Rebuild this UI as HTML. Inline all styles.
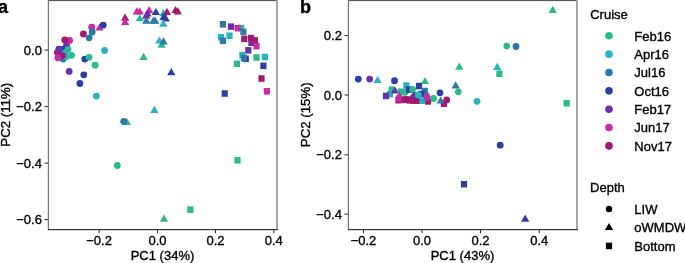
<!DOCTYPE html>
<html><head><meta charset="utf-8"><style>
html,body{margin:0;padding:0;background:#fff;width:685px;height:263px;overflow:hidden}
svg{display:block;will-change:transform}
text{font-family:"Liberation Sans",sans-serif;font-size:13px;fill:#000;stroke:#000;stroke-width:0.35px}
</style></head><body>
<svg width="685" height="263" viewBox="0 0 685 263">
<defs><clipPath id="ca"><rect x="48" y="0" width="229" height="229"/></clipPath>
<clipPath id="cb"><rect x="348" y="0" width="229" height="229"/></clipPath></defs>
<rect x="48" y="0" width="229" height="1" fill="#575757"/>
<rect x="49" y="1" width="227" height="1" fill="#efefef"/>
<rect x="276" y="0" width="2" height="230" fill="#a6a6a6"/>
<rect x="48" y="0" width="1" height="230" fill="#747474"/>
<rect x="47" y="0" width="1" height="230" fill="#e2e2e2"/>
<rect x="48" y="229" width="230" height="1" fill="#333"/>
<rect x="48" y="230" width="230" height="1" fill="#d8d8d8"/>
<rect x="44.5" y="49.60" width="3.5" height="1" fill="#2a2a2a"/>
<text x="41.90" y="54.60" text-anchor="end">0.0</text>
<rect x="44.5" y="106.10" width="3.5" height="1" fill="#2a2a2a"/>
<text x="41.90" y="111.10" text-anchor="end">−0.2</text>
<rect x="44.5" y="162.60" width="3.5" height="1" fill="#2a2a2a"/>
<text x="41.90" y="167.60" text-anchor="end">−0.4</text>
<rect x="44.5" y="219.10" width="3.5" height="1" fill="#2a2a2a"/>
<text x="41.90" y="224.10" text-anchor="end">−0.6</text>
<rect x="98.60" y="230" width="1" height="3.2" fill="#2a2a2a"/>
<text x="99.10" y="244.6" text-anchor="middle">−0.2</text>
<rect x="157.00" y="230" width="1" height="3.2" fill="#2a2a2a"/>
<text x="157.50" y="244.6" text-anchor="middle">0.0</text>
<rect x="215.00" y="230" width="1" height="3.2" fill="#2a2a2a"/>
<text x="215.50" y="244.6" text-anchor="middle">0.2</text>
<rect x="273.30" y="230" width="1" height="3.2" fill="#2a2a2a"/>
<text x="273.80" y="244.6" text-anchor="middle">0.4</text>
<text x="162.50" y="259.9" text-anchor="middle">PC1 (34%)</text>
<text transform="translate(10.30,114.75) rotate(-90)" text-anchor="middle" style="font-size:13.25px">PC2 (11%)</text>
<rect x="348" y="0" width="229" height="1" fill="#575757"/>
<rect x="349" y="1" width="227" height="1" fill="#efefef"/>
<rect x="576" y="0" width="2" height="230" fill="#a6a6a6"/>
<rect x="348" y="0" width="1" height="230" fill="#747474"/>
<rect x="347" y="0" width="1" height="230" fill="#e2e2e2"/>
<rect x="348" y="229" width="230" height="1" fill="#333"/>
<rect x="348" y="230" width="230" height="1" fill="#d8d8d8"/>
<rect x="344.5" y="35.10" width="3.5" height="1" fill="#2a2a2a"/>
<text x="341.90" y="40.10" text-anchor="end">0.2</text>
<rect x="344.5" y="94.50" width="3.5" height="1" fill="#2a2a2a"/>
<text x="341.90" y="99.50" text-anchor="end">0.0</text>
<rect x="344.5" y="154.30" width="3.5" height="1" fill="#2a2a2a"/>
<text x="341.90" y="159.30" text-anchor="end">−0.2</text>
<rect x="344.5" y="213.70" width="3.5" height="1" fill="#2a2a2a"/>
<text x="341.90" y="218.70" text-anchor="end">−0.4</text>
<rect x="363.00" y="230" width="1" height="3.2" fill="#2a2a2a"/>
<text x="363.50" y="244.6" text-anchor="middle">−0.2</text>
<rect x="421.50" y="230" width="1" height="3.2" fill="#2a2a2a"/>
<text x="422.00" y="244.6" text-anchor="middle">0.0</text>
<rect x="480.00" y="230" width="1" height="3.2" fill="#2a2a2a"/>
<text x="480.50" y="244.6" text-anchor="middle">0.2</text>
<rect x="538.70" y="230" width="1" height="3.2" fill="#2a2a2a"/>
<text x="539.20" y="244.6" text-anchor="middle">0.4</text>
<text x="462.50" y="259.9" text-anchor="middle">PC1 (43%)</text>
<text transform="translate(310.10,114.75) rotate(-90)" text-anchor="middle" style="font-size:13.25px">PC2 (15%)</text>
<g clip-path="url(#ca)">
<circle cx="66.60" cy="45.20" r="3.4" fill="#6A2FAD"/>
<circle cx="69.60" cy="40.40" r="3.4" fill="#C72BA8"/>
<circle cx="64.80" cy="39.90" r="3.4" fill="#A01A6E"/>
<circle cx="63.00" cy="59.10" r="3.4" fill="#2A7AA3"/>
<circle cx="63.00" cy="49.40" r="3.4" fill="#2C3FA0"/>
<circle cx="66.20" cy="56.80" r="3.4" fill="#27B4C0"/>
<circle cx="65.30" cy="52.80" r="3.4" fill="#27B4C0"/>
<circle cx="68.00" cy="49.30" r="3.4" fill="#2BB98E"/>
<circle cx="57.40" cy="52.60" r="3.4" fill="#A01A6E"/>
<circle cx="58.80" cy="49.10" r="3.4" fill="#6A2FAD"/>
<circle cx="62.50" cy="55.60" r="3.4" fill="#A01A6E"/>
<circle cx="57.80" cy="57.80" r="3.4" fill="#C72BA8"/>
<circle cx="71.60" cy="55.30" r="3.4" fill="#2BB98E"/>
<circle cx="83.40" cy="34.00" r="3.4" fill="#A01A6E"/>
<circle cx="89.10" cy="37.80" r="3.4" fill="#2A7AA3"/>
<circle cx="91.70" cy="27.20" r="3.4" fill="#C72BA8"/>
<circle cx="92.20" cy="32.00" r="3.4" fill="#2A7AA3"/>
<polygon points="99.50,23.40 103.65,30.60 95.35,30.60" fill="#C72BA8"/>
<circle cx="103.20" cy="25.20" r="3.4" fill="#2C3FA0"/>
<circle cx="104.60" cy="50.50" r="3.4" fill="#27B4C0"/>
<circle cx="84.80" cy="59.10" r="3.4" fill="#2C3FA0"/>
<circle cx="89.00" cy="57.30" r="3.4" fill="#2BB98E"/>
<circle cx="95.20" cy="65.20" r="3.4" fill="#2BB98E"/>
<circle cx="69.20" cy="71.40" r="3.4" fill="#6A2FAD"/>
<circle cx="83.80" cy="74.80" r="3.4" fill="#2C3FA0"/>
<circle cx="79.90" cy="83.50" r="3.4" fill="#2C3FA0"/>
<circle cx="96.40" cy="96.10" r="3.4" fill="#27B4C0"/>
<polygon points="126.80,117.80 130.95,125.00 122.65,125.00" fill="#2BB98E"/>
<circle cx="123.70" cy="121.50" r="3.4" fill="#2A7AA3"/>
<circle cx="117.30" cy="165.50" r="3.4" fill="#2BB98E"/>
<polygon points="125.10,13.60 129.25,20.80 120.95,20.80" fill="#A01A6E"/>
<polygon points="125.10,17.80 129.25,25.00 120.95,25.00" fill="#C72BA8"/>
<polygon points="136.80,7.20 140.95,14.40 132.65,14.40" fill="#C72BA8"/>
<polygon points="139.70,7.20 143.85,14.40 135.55,14.40" fill="#C72BA8"/>
<polygon points="139.70,14.10 143.85,21.30 135.55,21.30" fill="#2BB98E"/>
<polygon points="149.20,6.00 153.35,13.20 145.05,13.20" fill="#C72BA8"/>
<polygon points="147.50,9.20 151.65,16.40 143.35,16.40" fill="#6A2FAD"/>
<polygon points="146.20,11.60 150.35,18.80 142.05,18.80" fill="#6A2FAD"/>
<polygon points="155.90,7.90 160.05,15.10 151.75,15.10" fill="#2C3FA0"/>
<polygon points="146.30,16.50 150.45,23.70 142.15,23.70" fill="#2A7AA3"/>
<polygon points="153.40,16.50 157.55,23.70 149.25,23.70" fill="#2A7AA3"/>
<polygon points="155.20,16.50 159.35,23.70 151.05,23.70" fill="#2A7AA3"/>
<polygon points="163.30,9.10 167.45,16.30 159.15,16.30" fill="#27B4C0"/>
<polygon points="167.00,7.70 171.15,14.90 162.85,14.90" fill="#A01A6E"/>
<polygon points="175.50,5.90 179.65,13.10 171.35,13.10" fill="#A01A6E"/>
<polygon points="177.80,7.20 181.95,14.40 173.65,14.40" fill="#A01A6E"/>
<polygon points="165.80,14.40 169.95,21.60 161.65,21.60" fill="#2C3FA0"/>
<polygon points="163.60,12.80 167.75,20.00 159.45,20.00" fill="#2C3FA0"/>
<polygon points="163.30,19.60 167.45,26.80 159.15,26.80" fill="#27B4C0"/>
<polygon points="161.60,40.50 165.75,47.70 157.45,47.70" fill="#2BB98E"/>
<polygon points="159.30,36.40 163.45,43.60 155.15,43.60" fill="#27B4C0"/>
<polygon points="163.50,37.20 167.65,44.40 159.35,44.40" fill="#2A7AA3"/>
<polygon points="143.60,52.70 147.75,59.90 139.45,59.90" fill="#2BB98E"/>
<polygon points="171.30,68.10 175.45,75.30 167.15,75.30" fill="#2C3FA0"/>
<polygon points="154.40,105.80 158.55,113.00 150.25,113.00" fill="#27B4C0"/>
<polygon points="164.00,214.60 168.15,221.80 159.85,221.80" fill="#2BB98E"/>
<rect x="219.80" y="21.05" width="6.2" height="6.55" fill="#2A7AA3"/>
<rect x="227.90" y="23.35" width="6.2" height="6.55" fill="#6A2FAD"/>
<rect x="238.10" y="24.85" width="6.2" height="6.55" fill="#2BB98E"/>
<rect x="234.50" y="24.85" width="6.2" height="6.55" fill="#C72BA8"/>
<rect x="240.30" y="28.65" width="6.2" height="6.55" fill="#2A7AA3"/>
<rect x="226.40" y="32.45" width="6.2" height="6.55" fill="#27B4C0"/>
<rect x="217.90" y="34.05" width="6.2" height="6.55" fill="#27B4C0"/>
<rect x="219.80" y="37.55" width="6.2" height="6.55" fill="#2A7AA3"/>
<rect x="241.20" y="35.65" width="6.2" height="6.55" fill="#A01A6E"/>
<rect x="248.30" y="39.45" width="6.2" height="6.55" fill="#6A2FAD"/>
<rect x="247.90" y="34.85" width="6.2" height="6.55" fill="#A01A6E"/>
<rect x="251.80" y="37.15" width="6.2" height="6.55" fill="#A01A6E"/>
<rect x="253.40" y="42.85" width="6.2" height="6.55" fill="#C72BA8"/>
<rect x="245.20" y="47.05" width="6.2" height="6.55" fill="#6A2FAD"/>
<rect x="239.30" y="51.85" width="6.2" height="6.55" fill="#27B4C0"/>
<rect x="242.70" y="55.55" width="6.2" height="6.55" fill="#2C3FA0"/>
<rect x="240.80" y="54.75" width="6.2" height="6.55" fill="#2A7AA3"/>
<rect x="253.40" y="54.25" width="6.2" height="6.55" fill="#2BB98E"/>
<rect x="261.80" y="53.75" width="6.2" height="6.55" fill="#27B4C0"/>
<rect x="260.30" y="62.55" width="6.2" height="6.55" fill="#2C3FA0"/>
<rect x="233.80" y="60.55" width="6.2" height="6.55" fill="#2BB98E"/>
<rect x="258.40" y="75.25" width="6.2" height="6.55" fill="#A01A6E"/>
<rect x="263.80" y="88.05" width="6.2" height="6.55" fill="#C72BA8"/>
<rect x="221.60" y="90.25" width="6.2" height="6.55" fill="#2C3FA0"/>
<rect x="234.40" y="157.05" width="6.2" height="6.55" fill="#2BB98E"/>
<rect x="187.30" y="206.35" width="6.2" height="6.55" fill="#2BB98E"/>
</g><g clip-path="url(#cb)">
<circle cx="358.30" cy="79.10" r="3.4" fill="#2C3FA0"/>
<circle cx="369.70" cy="79.10" r="3.4" fill="#6A2FAD"/>
<polygon points="377.60,75.90 381.75,83.10 373.45,83.10" fill="#27B4C0"/>
<circle cx="394.50" cy="80.70" r="3.4" fill="#2C3FA0"/>
<polygon points="425.00,76.90 429.15,84.10 420.85,84.10" fill="#2BB98E"/>
<rect x="386.90" y="90.95" width="6.2" height="6.55" fill="#27B4C0"/>
<rect x="382.90" y="92.65" width="6.2" height="6.55" fill="#6A2FAD"/>
<rect x="388.60" y="86.35" width="6.2" height="6.55" fill="#2BB98E"/>
<polygon points="395.00,86.40 399.15,93.60 390.85,93.60" fill="#6A2FAD"/>
<rect x="397.70" y="88.45" width="6.2" height="6.55" fill="#2BB98E"/>
<circle cx="405.00" cy="92.40" r="3.4" fill="#2BB98E"/>
<rect x="403.30" y="82.25" width="6.2" height="6.55" fill="#27B4C0"/>
<rect x="405.90" y="86.35" width="6.2" height="6.55" fill="#2C3FA0"/>
<circle cx="412.60" cy="89.50" r="3.4" fill="#2BB98E"/>
<rect x="415.90" y="82.75" width="6.2" height="6.55" fill="#2C3FA0"/>
<rect x="421.70" y="87.75" width="6.2" height="6.55" fill="#2A7AA3"/>
<rect x="418.40" y="90.75" width="6.2" height="6.55" fill="#2C3FA0"/>
<polygon points="427.00,90.00 431.15,97.20 422.85,97.20" fill="#2A7AA3"/>
<rect x="395.40" y="96.95" width="6.2" height="6.55" fill="#A01A6E"/>
<polygon points="399.30,91.80 403.45,99.00 395.15,99.00" fill="#C72BA8"/>
<rect x="396.20" y="95.15" width="6.2" height="6.55" fill="#C72BA8"/>
<rect x="401.40" y="96.55" width="6.2" height="6.55" fill="#A01A6E"/>
<rect x="406.70" y="97.15" width="6.2" height="6.55" fill="#A01A6E"/>
<rect x="413.90" y="97.45" width="6.2" height="6.55" fill="#A01A6E"/>
<rect x="403.10" y="96.05" width="6.2" height="6.55" fill="#A01A6E"/>
<polygon points="411.20,94.00 415.35,101.20 407.05,101.20" fill="#A01A6E"/>
<rect x="410.90" y="97.25" width="6.2" height="6.55" fill="#A01A6E"/>
<circle cx="415.00" cy="95.40" r="3.4" fill="#6A2FAD"/>
<circle cx="418.30" cy="95.00" r="3.4" fill="#27B4C0"/>
<rect x="425.00" y="98.15" width="6.2" height="6.55" fill="#A01A6E"/>
<rect x="419.30" y="97.45" width="6.2" height="6.55" fill="#27B4C0"/>
<circle cx="426.90" cy="97.30" r="3.4" fill="#C72BA8"/>
<circle cx="433.60" cy="98.50" r="3.4" fill="#2BB98E"/>
<circle cx="440.00" cy="92.80" r="3.4" fill="#2C3FA0"/>
<rect x="440.80" y="100.45" width="6.2" height="6.55" fill="#A01A6E"/>
<polygon points="440.80,96.40 444.95,103.60 436.65,103.60" fill="#2A7AA3"/>
<circle cx="446.70" cy="100.00" r="3.4" fill="#A01A6E"/>
<polygon points="455.70,81.30 459.85,88.50 451.55,88.50" fill="#2A7AA3"/>
<circle cx="458.30" cy="91.80" r="3.4" fill="#2BB98E"/>
<polygon points="459.30,62.60 463.45,69.80 455.15,69.80" fill="#2BB98E"/>
<polygon points="497.30,62.70 501.45,69.90 493.15,69.90" fill="#27B4C0"/>
<rect x="496.30" y="70.45" width="6.2" height="6.55" fill="#2BB98E"/>
<circle cx="506.80" cy="46.10" r="3.4" fill="#2BB98E"/>
<circle cx="516.00" cy="46.50" r="3.4" fill="#2A7AA3"/>
<circle cx="477.00" cy="101.30" r="3.4" fill="#27B4C0"/>
<polygon points="552.70,5.75 556.85,12.95 548.55,12.95" fill="#2BB98E"/>
<rect x="563.60" y="99.95" width="6.2" height="6.55" fill="#2BB98E"/>
<circle cx="500.20" cy="145.20" r="3.4" fill="#2C3FA0"/>
<rect x="460.90" y="180.95" width="6.2" height="6.55" fill="#2C3FA0"/>
<polygon points="525.20,214.50 529.35,221.70 521.05,221.70" fill="#2C3FA0"/>
</g>
<text x="-2.1" y="12.6" style="font-weight:bold;font-size:18px">a</text>
<text x="299.9" y="12.6" style="font-weight:bold;font-size:18px">b</text>
<text x="590.2" y="19">Cruise</text>
<circle cx="609" cy="35.80" r="3.8" fill="#2BB98E"/>
<text x="634.3" y="40.60">Feb16</text>
<circle cx="609" cy="54.15" r="3.8" fill="#27B4C0"/>
<text x="634.3" y="58.95">Apr16</text>
<circle cx="609" cy="72.50" r="3.8" fill="#2A7AA3"/>
<text x="634.3" y="77.30">Jul16</text>
<circle cx="609" cy="90.85" r="3.8" fill="#2C3FA0"/>
<text x="634.3" y="95.65">Oct16</text>
<circle cx="609" cy="109.20" r="3.8" fill="#6A2FAD"/>
<text x="634.3" y="114.00">Feb17</text>
<circle cx="609" cy="127.55" r="3.8" fill="#C72BA8"/>
<text x="634.3" y="132.35">Jun17</text>
<circle cx="609" cy="145.90" r="3.8" fill="#A01A6E"/>
<text x="634.3" y="150.70">Nov17</text>
<text x="590.1" y="192.1">Depth</text>
<circle cx="609.00" cy="209.00" r="3.2" fill="#000000"/>
<text x="634.3" y="213.80">LIW</text>
<polygon points="609.00,222.90 613.15,229.90 604.85,229.90" fill="#000000"/>
<text x="634.3" y="232.15">oWMDW</text>
<rect x="605.90" y="242.65" width="6.2" height="6.55" fill="#000000"/>
<text x="634.3" y="250.50">Bottom</text>
</svg></body></html>
